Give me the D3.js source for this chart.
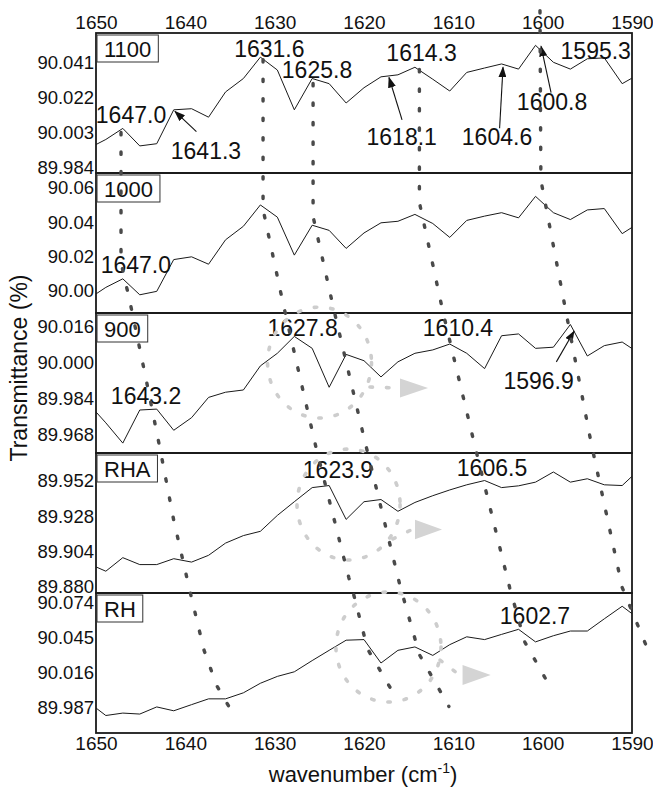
<!DOCTYPE html>
<html>
<head>
<meta charset="utf-8">
<script src="https://cdn.jsdelivr.net/npm/d3@7"></script>
<style>
  body { margin: 0; background: #fff; }
  text { font-family: "Liberation Sans", Arial, sans-serif; fill: #111; }
</style>
</head>
<body>
<svg id="chart" width="653" height="787"></svg>
<script>
// wavenumber grid of the spectra (cm-1)
const wavenumbers = [1650.9, 1648.9, 1647.0, 1645.1, 1643.2, 1641.3, 1639.3, 1637.4, 1635.5, 1633.5,
  1631.6, 1629.7, 1627.8, 1625.8, 1623.9, 1622.0, 1620.0, 1618.1, 1616.2, 1614.3,
  1612.3, 1610.4, 1608.5, 1606.5, 1604.6, 1602.7, 1600.8, 1598.8, 1596.9, 1595.0,
  1593.1, 1591.1, 1589.2];

// transmittance (%) per sample
const s1100 = [89.9945, 89.9995, 90.0055, 89.9960, 89.9972, 90.0156, 90.0162, 90.0116, 90.0253, 90.0326,
  90.0442, 90.0372, 90.0156, 90.0326, 90.0298, 90.0193, 90.0276, 90.0335, 90.0346, 90.0387,
  90.0322, 90.0258, 90.0359, 90.0383, 90.0405, 90.0377, 90.0506, 90.0414, 90.0377, 90.0433,
  90.0438, 90.0298, 90.0350];
const s1000 = [89.9952, 90.0021, 90.0071, 89.9978, 89.9998, 90.0183, 90.0199, 90.0156, 90.0298, 90.0377,
  90.0501, 90.0430, 90.0209, 90.0383, 90.0353, 90.0248, 90.0338, 90.0397, 90.0406, 90.0446,
  90.0393, 90.0312, 90.0411, 90.0436, 90.0456, 90.0426, 90.0551, 90.0456, 90.0416, 90.0472,
  90.0480, 90.0334, 90.0397];
const s900 = [89.9822, 89.9734, 89.9644, 89.9791, 89.9795, 89.9701, 89.9757, 89.9847, 89.9870, 89.9880,
  89.9987, 90.0043, 90.0118, 90.0065, 89.9892, 90.0038, 90.0010, 89.9938, 90.0005, 90.0043,
  90.0058, 90.0084, 90.0043, 89.9975, 90.0121, 90.0129, 90.0065, 90.0070, 90.0171, 90.0031,
  90.0077, 90.0093, 90.0043];
const sRHA = [89.8960, 89.8907, 89.8999, 89.8952, 89.8952, 89.8992, 89.8969, 89.9015, 89.9098, 89.9149,
  89.9178, 89.9286, 89.9379, 89.9475, 89.9489, 89.9259, 89.9379, 89.9394, 89.9314, 89.9374,
  89.9420, 89.9459, 89.9494, 89.9523, 89.9475, 89.9487, 89.9512, 89.9581, 89.9512, 89.9535,
  89.9494, 89.9489, 89.9597];
const sRH = [89.9921, 89.9808, 89.9828, 89.9820, 89.9879, 89.9847, 89.9898, 89.9946, 89.9946, 89.9996,
  90.0075, 90.0132, 90.0170, 90.0263, 90.0348, 90.0432, 90.0437, 90.0243, 90.0348, 90.0376,
  90.0306, 90.0395, 90.0460, 90.0437, 90.0480, 90.0522, 90.0418, 90.0469, 90.0508, 90.0508,
  90.0609, 90.0713, 90.0607];

const panelNames = ["1100", "1000", "900", "RHA", "RH"];
const panelSeries = [s1100, s1000, s900, sRHA, sRH];
const panelDomains = [[89.9813, 90.0573], [89.9872, 90.0687], [89.960, 90.0222], [89.8759, 89.971], [89.9663, 90.0823]];
const yTicks1100 = [89.984, 90.003, 90.022, 90.041];
const yTicks1000 = [90.00, 90.02, 90.04, 90.06];
const yTicks900 = [89.968, 89.984, 90.000, 90.016];
const yTicksRHA = [89.880, 89.904, 89.928, 89.952];
const yTicksRH = [89.987, 90.016, 90.045, 90.074];
const panelTicks = [yTicks1100, yTicks1000, yTicks900, yTicksRHA, yTicksRH];
const panelFormats = [".3f", ".2f", ".3f", ".3f", ".3f"];
const xTicks = [1650, 1640, 1630, 1620, 1610, 1600, 1590];

// peak labels: [text, wavenumber of centre, stack position of baseline (0 = top, 5 = bottom)]
const peakLabels = [
  ["1631.6", 1630.6, 0.171], ["1625.8", 1625.26, 0.318], ["1614.3", 1613.56, 0.2],
  ["1595.3", 1594.06, 0.184], ["1647.0", 1646.08, 0.643], ["1641.3", 1637.69, 0.9],
  ["1618.1", 1615.78, 0.8], ["1604.6", 1605.11, 0.8], ["1600.8", 1598.95, 0.548],
  ["1647.0", 1645.54, 1.714],
  ["1643.2", 1644.4, 2.651], ["1627.8", 1626.87, 2.167], ["1610.4", 1609.48, 2.167], ["1596.9", 1600.46, 2.543],
  ["1623.9", 1622.91, 3.179], ["1606.5", 1605.67, 3.167],
  ["1602.7", 1600.86, 4.223]
];
// pointer arrows from label to peak
const pointers = [
  [[1638.76, 0.705], [1641.16, 0.56]],
  [[1615.74, 0.62], [1617.2, 0.318]],
  [[1604.82, 0.681], [1604.44, 0.245]],
  [[1599.06, 0.426], [1600.18, 0.095]],
  [[1598.47, 2.349], [1596.49, 2.131]]
];
// dotted peak-shift tracks
const trackA = [[1647.2, 0.71], [1647.2, 1.64], [1646.2, 1.92], [1644.5, 2.44], [1642.8, 2.98], [1641.3, 3.48], [1639.4, 4.01], [1637.9, 4.41], [1636.5, 4.66], [1634.4, 4.89]];
const trackB = [[1631.3, 0.19], [1631.3, 1.26], [1629.1, 1.92], [1625.3, 2.98], [1621.7, 3.89], [1621.2, 4.0], [1619.6, 4.4], [1616.3, 4.76]];
const trackC = [[1625.7, 0.36], [1625.7, 1.31], [1623.4, 1.97], [1620.0, 2.89], [1616.0, 3.94], [1613.8, 4.44], [1610.5, 4.81]];
const trackD = [[1613.8, 0.26], [1613.8, 1.21], [1611.1, 2.01], [1607.7, 2.92], [1603.7, 3.96], [1602.0, 4.35], [1598.9, 4.7]];
const trackE = [[1600.3, -0.16], [1600.2, 1.05], [1597.4, 1.99], [1594.6, 2.92], [1591.1, 3.96], [1588.0, 4.44]];
const tracks = [trackA, trackB, trackC, trackD, trackE];
// light grey loops: centre wn, centre stack, radius wn, radius stack
const loops = [[1624.98, 2.354, 5.82, 0.396], [1621.73, 3.368, 5.77, 0.396], [1617.26, 4.386, 5.88, 0.393]];
// loop tails and arrowheads: tail start, base wn, tip wn, stack, half height
const loopArrows = [
  [[1619.33, 2.529], 1615.97, 1612.83, 2.536, 0.068],
  [[1616.77, 3.614], 1614.29, 1611.27, 3.546, 0.07],
  [[1611.49, 4.479], 1608.97, 1605.82, 4.586, 0.071]
];

const svg = d3.select("#chart");
const plotLeft = 96, plotRight = 632, plotTop = 33, plotBottom = 733;

const x = d3.scaleLinear().domain([1650, 1590]).range([plotLeft, plotRight]);
const stack = d3.scaleLinear().domain([0, 5]).range([plotTop, plotBottom]);

svg.append("rect").attr("width", 653).attr("height", 787).attr("fill", "#fff");

const defs = svg.append("defs");
defs.append("marker")
  .attr("id", "head")
  .attr("markerUnits", "userSpaceOnUse")
  .attr("markerWidth", 11).attr("markerHeight", 8)
  .attr("refX", 10).attr("refY", 4)
  .attr("orient", "auto")
  .append("path").attr("d", "M0,0L11,4L0,8Z").attr("fill", "#111");

panelNames.forEach((name, i) => {
  const y0 = stack(i), y1 = stack(i + 1);
  const y = d3.scaleLinear().domain(panelDomains[i]).range([y1, y0]);

  defs.append("clipPath").attr("id", "clip" + i)
    .append("rect").attr("x", plotLeft).attr("y", y0).attr("width", plotRight - plotLeft).attr("height", y1 - y0);

  const line = d3.line().x((d, k) => x(wavenumbers[k])).y(d => y(d));
  svg.append("path")
    .datum(panelSeries[i])
    .attr("clip-path", `url(#clip${i})`)
    .attr("fill", "none")
    .attr("stroke", "#1a1a1a")
    .attr("stroke-width", 1)
    .attr("d", line);

  const ax = svg.append("g")
    .attr("transform", `translate(${plotLeft},0)`)
    .call(d3.axisLeft(y).tickValues(panelTicks[i]).tickSize(0).tickPadding(2).tickFormat(d3.format(panelFormats[i])));
  ax.select(".domain").remove();
  ax.selectAll("text").attr("font-size", 18.5).attr("font-family", null);

  svg.append("rect")
    .attr("x", plotLeft).attr("y", y0).attr("width", plotRight - plotLeft).attr("height", y1 - y0)
    .attr("fill", "none").attr("stroke", "#1a1a1a").attr("stroke-width", 1.8);
});

// x axes top and bottom
const xTop = svg.append("g").attr("transform", `translate(0,${plotTop})`)
  .call(d3.axisTop(x).tickValues(xTicks).tickSize(0).tickPadding(4).tickFormat(d3.format("d")));
const xBot = svg.append("g").attr("transform", `translate(0,${plotBottom})`)
  .call(d3.axisBottom(x).tickValues(xTicks).tickSize(0).tickPadding(3).tickFormat(d3.format("d")));
[xTop, xBot].forEach(g => {
  g.select(".domain").remove();
  g.selectAll("text").attr("font-size", 19).attr("font-family", null);
});

// peak labels
svg.append("g").selectAll("text")
  .data(peakLabels)
  .join("text")
  .attr("x", d => x(d[1]))
  .attr("y", d => stack(d[2]))
  .attr("text-anchor", "middle")
  .attr("font-size", 23)
  .text(d => d[0]);

svg.append("g").selectAll("line")
  .data(pointers)
  .join("line")
  .attr("x1", d => x(d[0][0])).attr("y1", d => stack(d[0][1]))
  .attr("x2", d => x(d[1][0])).attr("y2", d => stack(d[1][1]))
  .attr("stroke", "#111").attr("stroke-width", 1.1)
  .attr("marker-end", "url(#head)");

// panel name boxes
panelNames.forEach((name, i) => {
  const g = svg.append("g");
  const t = g.append("text")
    .attr("x", plotLeft + 8).attr("y", stack(i) + 24)
    .attr("font-size", 22)
    .text(name);
  const w = t.node().getComputedTextLength();
  g.insert("rect", "text")
    .attr("x", plotLeft + 1).attr("y", stack(i) + 2)
    .attr("width", w + 14).attr("height", 27)
    .attr("fill", "#fff").attr("stroke", "#333").attr("stroke-width", 1);
});

// grey loops with arrows
const loopG = svg.append("g");
loops.forEach(l => {
  loopG.append("ellipse")
    .attr("cx", x(l[0])).attr("cy", stack(l[1]))
    .attr("rx", Math.abs(x(l[0] + l[2]) - x(l[0])))
    .attr("ry", stack(l[1] + l[3]) - stack(l[1]))
    .attr("fill", "none").attr("stroke", "#cdcdcd")
    .attr("stroke-width", 3.6).attr("stroke-linecap", "round")
    .attr("stroke-dasharray", "2.5 14");
});
loopArrows.forEach(a => {
  loopG.append("line")
    .attr("x1", x(a[0][0])).attr("y1", stack(a[0][1]))
    .attr("x2", x(a[1]) - 3).attr("y2", stack(a[3]))
    .attr("stroke", "#cdcdcd").attr("stroke-width", 3.6).attr("stroke-linecap", "round")
    .attr("stroke-dasharray", "2.5 14");
  loopG.append("path")
    .attr("d", `M${x(a[1])},${stack(a[3] - a[4])}L${x(a[2])},${stack(a[3])}L${x(a[1])},${stack(a[3] + a[4])}Z`)
    .attr("fill", "#d4d4d4");
});

// dark dotted tracks
const trackLine = d3.line().x(d => x(d[0])).y(d => stack(d[1]));
svg.append("g").selectAll("path")
  .data(tracks)
  .join("path")
  .attr("d", trackLine)
  .attr("fill", "none")
  .attr("stroke", "#4a4a4a")
  .attr("stroke-width", 3.4)
  .attr("stroke-linecap", "round")
  .attr("stroke-dasharray", "2.5 17");

// axis titles
svg.append("text")
  .attr("transform", "translate(27,368) rotate(-90)")
  .attr("text-anchor", "middle")
  .attr("font-size", 23)
  .text("Transmittance (%)");

const xt = svg.append("text")
  .attr("x", 363).attr("y", 782)
  .attr("text-anchor", "middle")
  .attr("font-size", 22);
xt.append("tspan").text("wavenumber (cm");
xt.append("tspan").attr("font-size", 14).attr("dy", -9).text("-1");
xt.append("tspan").attr("dy", 9).text(")");
</script>
</body>
</html>
